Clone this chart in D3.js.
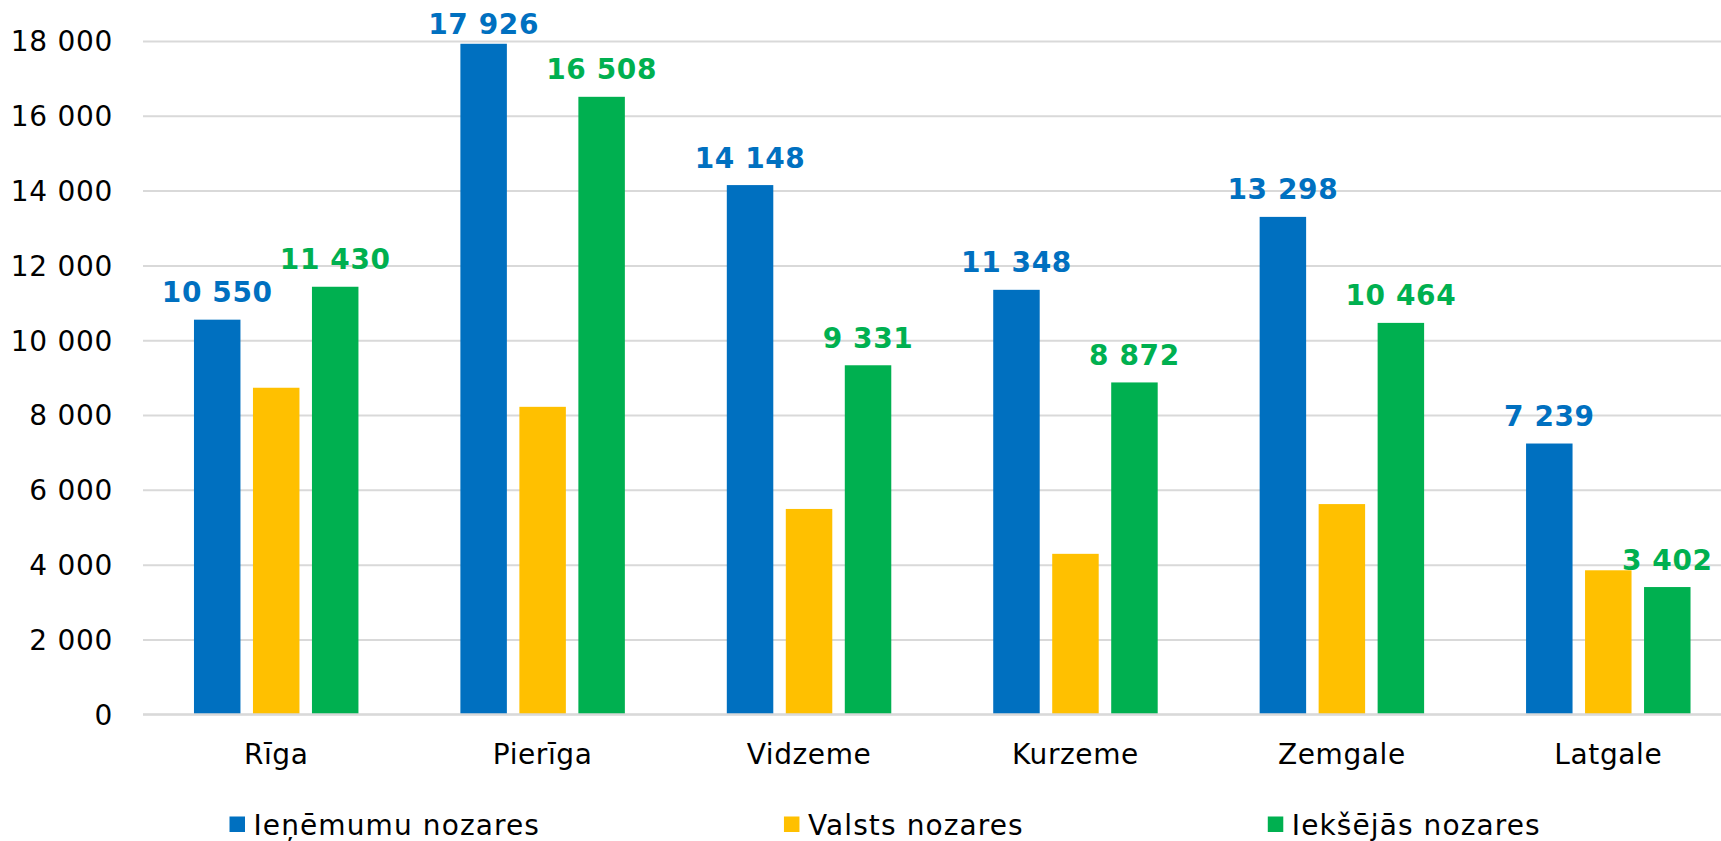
<!DOCTYPE html>
<html>
<head>
<meta charset="utf-8">
<script src="https://cdn.jsdelivr.net/npm/d3@7"></script>
<style>
  html, body { margin: 0; padding: 0; background: #fff; }
  svg { display: block; font-family: "DejaVu Sans", Verdana, sans-serif; }
</style>
</head>
<body>
<svg id="chart" width="1721" height="841"></svg>
<script>
// ---- data ----
const categories = ["Rīga", "Pierīga", "Vidzeme", "Kurzeme", "Zemgale", "Latgale"];
const seriesNames = ["Ieņēmumu nozares", "Valsts nozares", "Iekšējās nozares"];
const ienemumu = [10550, 17926, 14148, 11348, 13298, 7239];
const valsts   = [8730, 8220, 5490, 4290, 5620, 3850];
const ieksejas = [11430, 16508, 9331, 8872, 10464, 3402];
const yTicks = [0, 2000, 4000, 6000, 8000, 10000, 12000, 14000, 16000, 18000];
const labeledSeries = [true, false, true];

// ---- styling / layout ----
const colors = ["#0070C0", "#FFC000", "#00B050"];
const seriesValues = [ienemumu, valsts, ieksejas];
const svg = d3.select("#chart");
const plot = { left: 143, right: 1741.5, top: 41, bottom: 714.3 };

const locale = d3.formatLocale({ decimal: ",", thousands: " ", grouping: [3], currency: ["", "€"] });
const fmt = locale.format(",d");

const x0 = d3.scaleBand().domain(categories).range([plot.left, plot.right]).paddingInner(0).paddingOuter(0);
const x1 = d3.scaleBand().domain(d3.range(seriesNames.length)).range([0, x0.bandwidth()])
  .paddingInner(0.212).paddingOuter(0.864);
const y = d3.scaleLinear().domain([0, 18000]).range([plot.bottom, plot.top]);

// gridlines
const grid = svg.append("g").attr("transform", `translate(${plot.left},0)`)
  .call(d3.axisLeft(y).tickValues(yTicks).tickSize(-(plot.right - plot.left)).tickFormat(""));
grid.select(".domain").remove();
grid.selectAll(".tick line").attr("stroke", "#D9D9D9").attr("stroke-width", 2);

// y tick labels
const yAxis = svg.append("g").attr("transform", `translate(${plot.left},0)`)
  .call(d3.axisLeft(y).tickValues(yTicks).tickSize(0).tickPadding(30).tickFormat(fmt));
yAxis.select(".domain").remove();
yAxis.selectAll("text").attr("font-size", 28).attr("fill", "#000")
  .attr("letter-spacing", 0.7)
  .attr("font-family", "DejaVu Sans, Verdana, sans-serif").attr("dy", "0.35em");

// bars
const rows = [];
categories.forEach((c, ci) => {
  seriesValues.forEach((vals, si) => rows.push({ cat: c, s: si, v: vals[ci] }));
});
svg.append("g").selectAll("rect").data(rows).join("rect")
  .attr("x", d => x0(d.cat) + x1(d.s))
  .attr("width", x1.bandwidth())
  .attr("y", d => y(d.v))
  .attr("height", d => y(0) - y(d.v))
  .attr("fill", d => colors[d.s]);

// baseline (axis line on top)
svg.append("line").attr("x1", plot.left).attr("x2", plot.right)
  .attr("y1", y(0)).attr("y2", y(0)).attr("stroke", "#D9D9D9").attr("stroke-width", 2);

// data labels
const minBaseline = 34.3;
svg.append("g").selectAll("text").data(rows.filter(d => labeledSeries[d.s])).join("text")
  .attr("x", d => x0(d.cat) + x1(d.s) + x1.bandwidth() / 2)
  .attr("y", d => Math.max(y(d.v) - 17.5, minBaseline))
  .attr("text-anchor", "middle")
  .attr("font-size", 28).attr("font-weight", "bold")
  .attr("letter-spacing", 0.6)
  .attr("fill", d => colors[d.s])
  .text(d => fmt(d.v));

// x category labels
svg.append("g").selectAll("text").data(categories).join("text")
  .attr("x", d => x0(d) + x0.bandwidth() / 2)
  .attr("y", 763.5)
  .attr("text-anchor", "middle")
  .attr("font-size", 28).attr("fill", "#000")
  .attr("letter-spacing", 0.6)
  .text(d => d);

// legend
const legend = svg.append("g");
let lx = 229.5;
seriesNames.forEach((name, i) => {
  const g = legend.append("g").attr("transform", `translate(${lx},0)`);
  g.append("rect").attr("x", 0).attr("y", 816.5).attr("width", 15.5).attr("height", 15.5).attr("fill", colors[i]);
  const t = g.append("text").attr("x", 24).attr("y", 834.5).attr("font-size", 28).attr("fill", "#000")
    .attr("letter-spacing", 1.1).text(name);
  const w = t.node().getComputedTextLength();
  lx += 24 + w + 244;
});
</script>
</body>
</html>
